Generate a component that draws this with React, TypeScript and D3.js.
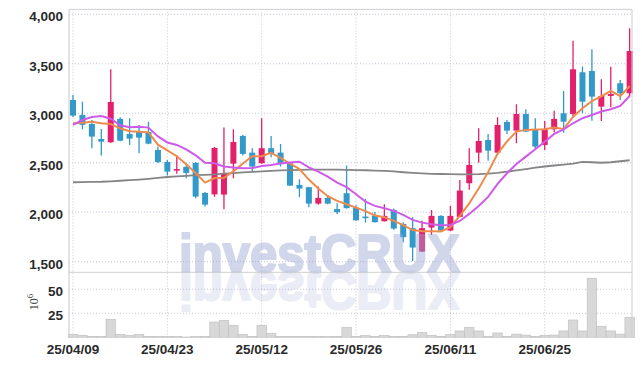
import React from 'react';
import * as d3 from 'd3';

const dates = [
  '25/04/09','25/04/10','25/04/11','25/04/14','25/04/15','25/04/16','25/04/17','25/04/18','25/04/21','25/04/22',
  '25/04/23','25/04/24','25/04/25','25/04/28','25/04/29','25/04/30','25/05/02','25/05/07','25/05/08','25/05/09',
  '25/05/12','25/05/13','25/05/14','25/05/15','25/05/16','25/05/19','25/05/20','25/05/21','25/05/22','25/05/23',
  '25/05/26','25/05/27','25/05/28','25/05/29','25/05/30','25/06/02','25/06/04','25/06/05','25/06/09','25/06/10',
  '25/06/11','25/06/12','25/06/13','25/06/16','25/06/17','25/06/18','25/06/19','25/06/20','25/06/23','25/06/24',
  '25/06/25','25/06/26','25/06/27','25/06/30','25/07/01','25/07/02','25/07/03','25/07/04','25/07/07','25/07/08'
];

const opens = [
  3134,2983,2892,2740,2707,2943,2791,2815,2811,2629,
  2508,2422,2458,2498,2195,2180,2178,2491,2771,2602,
  2495,2647,2602,2495,2276,2253,2087,2145,2033,2192,
  2047,1956,1966,1909,2023,1882,1839,1602,1845,1963,
  1815,1953,2293,2602,2730,2602,2912,2825,2993,2831,
  2680,2838,3000,2993,3414,3427,3067,3175,3303,3202
];
const highs = [
  3185,3117,2932,2842,3444,2960,2950,2882,2915,2663,
  2528,2579,2478,2508,2205,2660,2855,2838,2780,2647,
  2950,2771,2690,2500,2333,2258,2259,2175,2091,2471,
  2070,2135,2003,2081,2037,1899,1950,1915,2023,1970,
  2064,2326,2647,2848,2791,2960,2932,3091,3040,2950,
  2922,3026,3225,3733,3471,3646,3343,3471,3336,3859
];
const lows = [
  2963,2838,2647,2572,2700,2718,2680,2596,2686,2495,
  2370,2390,2344,2142,2057,2155,2030,2344,2572,2410,
  2490,2556,2461,2265,2152,2050,2075,2080,1980,2038,
  1912,1895,1895,1905,1822,1697,1505,1598,1771,1810,
  1810,1950,2226,2501,2521,2598,2791,2697,2810,2636,
  2629,2808,2804,2966,3000,2925,2922,3060,3134,3168
];
const closes = [
  2976,2883,2764,2713,3114,2723,2744,2754,2693,2508,
  2410,2436,2397,2158,2077,2650,2397,2710,2589,2461,
  2647,2589,2488,2269,2239,2087,2145,2087,2000,2041,
  1919,1946,1899,1963,1835,1748,1643,1839,1963,1815,
  1963,2219,2478,2720,2622,2882,2825,2993,2815,2663,
  2842,2943,2915,3444,3117,3168,3175,3195,3202,3629
];
// volume, in millions
const volumes = [
  3.1,2.1,1.0,1.0,18.7,3.1,2.1,3.1,1.0,1.0,
  0.8,1.0,0.3,0.8,1.0,15.9,17.7,12.5,3.1,1.0,
  12.5,4.2,1.0,1.0,1.0,1.0,1.0,0.8,1.0,10.4,
  1.0,2.0,1.0,2.0,1.0,1.0,2.7,5.2,2.1,1.0,
  2.7,6.6,10.4,6.6,1.0,4.5,1.0,3.3,2.3,1.0,
  2.1,2.3,6.6,18.0,6.6,61.5,11.5,6.6,3.3,20.8
];
const ma5 = [
  2899,2905,2915,2899,2891,2848,2818,2812,2807,2682,
  2625,2566,2484,2396,2299,2346,2348,2412,2493,2565,
  2565,2600,2550,2490,2437,2330,2239,2162,2115,2081,
  2047,2011,1967,1950,1913,1870,1820,1808,1807,1805,
  1848,1962,2090,2240,2405,2590,2715,2815,2832,2837,
  2838,2855,2842,2963,3051,3122,3170,3225,3173,3275
];
const ma20 = [
  2882,2932,2962,2972,2945,2878,2858,2863,2855,2766,
  2705,2680,2636,2575,2500,2494,2462,2451,2444,2446,
  2466,2478,2493,2502,2511,2454,2410,2360,2299,2253,
  2182,2107,2064,2041,2013,1973,1923,1895,1879,1869,
  1872,1912,1983,2064,2155,2286,2394,2488,2562,2636,
  2713,2791,2838,2899,2950,2983,3017,3040,3074,3175
];
const ma120 = [
  2303,2305,2307,2308,2312,2318,2324,2330,2338,2347,
  2356,2362,2368,2374,2378,2382,2390,2396,2402,2407,
  2412,2418,2422,2425,2428,2430,2430,2430,2430,2428,
  2426,2424,2421,2417,2412,2404,2397,2392,2388,2386,
  2384,2383,2383,2385,2390,2398,2410,2422,2436,2450,
  2462,2472,2480,2490,2508,2505,2500,2505,2515,2525
];

const priceTicks = [1500, 2000, 2500, 3000, 3500, 4000];
const volTicks = [25, 50];
const dateTickIdx = [0, 10, 20, 30, 40, 50];

const UP = '#e3206b';
const DOWN = '#3399c9';
const GRID = '#c4c6da';
const FRAME = '#cfcfcf';
const LABEL_FONT = "'Liberation Sans', Arial, sans-serif";

export default function App() {
  const W = 642, H = 366;
  const left = 69, right = 632, top = 9.35, sep = 272.3, bottom = 337.3;
  const x = d3.scaleLinear().domain([-0.424, 59.25]).range([left, right]);
  const y = d3.scaleLinear().domain([1400, 4050]).range([271.6, top]);
  const yv = d3.scaleLinear().domain([0, 67.7]).range([bottom, sep]);
  const step = x(1) - x(0);
  const bodyW = 6;

  const line = (arr: number[]) =>
    d3.line<number>().x((_, i) => x(i)).y((d) => y(d))(arr) || '';

  const wm = (
    <text x={179} y={272} fontFamily={LABEL_FONT} fontWeight="bold" fontSize={53} textLength={281}
      lengthAdjust="spacingAndGlyphs" fill="#9aa6d4" stroke="#9aa6d4" strokeWidth={2.2}
      strokeLinejoin="round">investCRUX</text>
  );

  return (
    <svg width={W} height={H} style={{ position: 'absolute', left: 0, top: 0, background: '#fff' }}>
      <rect x={0} y={0} width={W} height={H} fill="#fff" />
      {/* grid */}
      {priceTicks.map((t) => (
        <line key={'pg' + t} x1={left} x2={right} y1={y(t)} y2={y(t)} stroke={GRID} strokeWidth={1} strokeDasharray="1 2" />
      ))}
      {volTicks.map((t) => (
        <line key={'vg' + t} x1={left} x2={right} y1={yv(t)} y2={yv(t)} stroke={GRID} strokeWidth={1} strokeDasharray="1 2" />
      ))}
      {dateTickIdx.map((i) => (
        <line key={'dg' + i} x1={x(i)} x2={x(i)} y1={top} y2={bottom} stroke={GRID} strokeWidth={1} strokeDasharray="1 2" />
      ))}

      {/* volume */}
      {volumes.map((v, i) => (
        <rect key={'v' + i} x={x(i) - step / 2} width={step} y={yv(v)} height={Math.max(0.5, bottom - yv(v))}
          fill="#d8d8d8" stroke="#c2c2c2" strokeWidth={0.7} />
      ))}

      {/* candles */}
      {closes.map((c, i) => {
        const o = opens[i];
        const col = c >= o ? UP : DOWN;
        const yt = y(Math.max(o, c));
        const yb = y(Math.min(o, c));
        const h = Math.max(1.6, yb - yt);
        return (
          <g key={'c' + i}>
            <line x1={x(i)} x2={x(i)} y1={y(highs[i])} y2={y(lows[i])} stroke={col} strokeWidth={1.3} />
            <rect x={x(i) - bodyW / 2} y={yt} width={bodyW} height={h} fill={col} />
          </g>
        );
      })}

      {/* moving averages */}
      <path d={line(ma120)} fill="none" stroke="#858585" strokeWidth={1.8} />
      <path d={line(ma5)} fill="none" stroke="#ef8a4d" strokeWidth={2} />
      <path d={line(ma20)} fill="none" stroke="#cf5ae9" strokeWidth={2} />

      {/* watermark */}
      <g opacity={0.45}>{wm}</g>
      <g opacity={0.2} transform="translate(0,544) scale(1,-1)">{wm}</g>

      {/* frame */}
      <line x1={left} x2={right} y1={top} y2={top} stroke={FRAME} strokeWidth={1} />
      <line x1={left} x2={right} y1={sep} y2={sep} stroke={FRAME} strokeWidth={1} />
      <line x1={left} x2={left} y1={top} y2={bottom} stroke={FRAME} strokeWidth={1.2} />
      <line x1={right} x2={right} y1={top} y2={bottom} stroke={FRAME} strokeWidth={1} />

      {/* axis labels */}
      {priceTicks.map((t) => (
        <text key={'pl' + t} x={63} y={y(t) + 7} textAnchor="end" fontFamily={LABEL_FONT} fontWeight="bold"
          fontSize={13.5} fill="#2a2a2a">{d3.format(',')(t)}</text>
      ))}
      {volTicks.map((t) => (
        <text key={'vl' + t} x={63} y={yv(t) + 6.5} textAnchor="end" fontFamily={LABEL_FONT} fontWeight="bold"
          fontSize={13.5} fill="#2a2a2a">{t}</text>
      ))}
      {dateTickIdx.map((i) => (
        <text key={'dl' + i} x={x(i)} y={354} textAnchor="middle" fontFamily={LABEL_FONT} fontWeight="bold"
          fontSize={13.5} fill="#2a2a2a">{dates[i]}</text>
      ))}
      <text transform="translate(37.5,302) rotate(-90)" textAnchor="middle" fontFamily="'Liberation Serif', serif"
        fontSize={12} fill="#333">10<tspan dy={-5} fontSize={9}>6</tspan></text>
    </svg>
  );
}
